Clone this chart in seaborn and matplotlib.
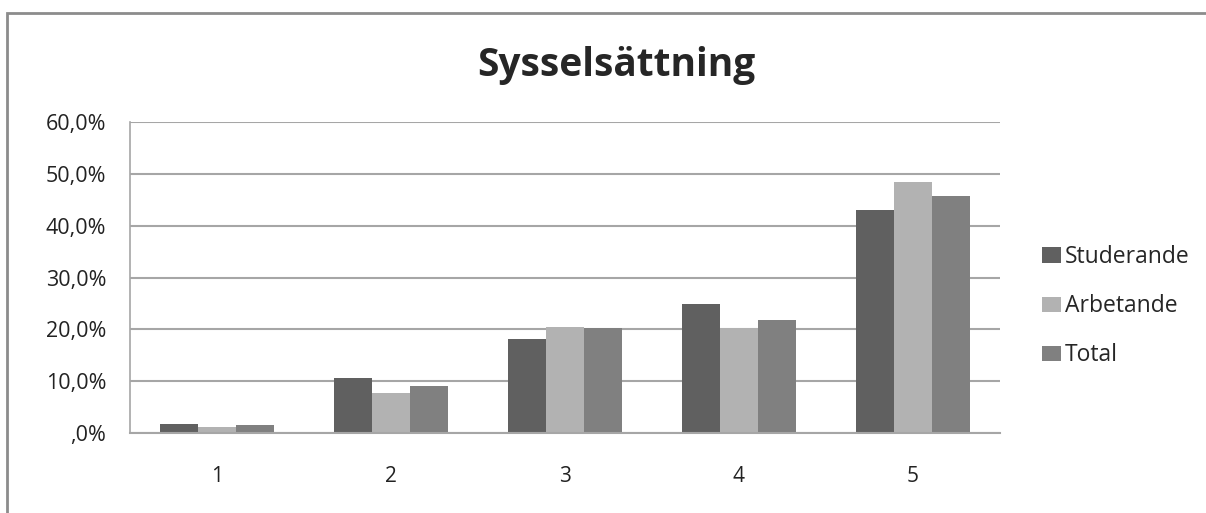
import matplotlib
matplotlib.use('Agg')
from matplotlib import pyplot as plt
from matplotlib.patches import Rectangle
from matplotlib.ticker import FuncFormatter
import pandas as pd
import seaborn as sns

categories = ['1', '2', '3', '4', '5']
studerande = [1.7, 10.7, 18.1, 24.8, 43.0]
arbetande = [1.1, 7.8, 20.4, 20.2, 48.5]
total = [1.5, 9.0, 20.2, 21.9, 45.7]
series = ['Studerande', 'Arbetande', 'Total']
colors = ['#606060', '#b2b2b2', '#808080']

df = pd.DataFrame({'kategori': categories * 3,
                   'andel': studerande + arbetande + total,
                   'grupp': [s for s in series for _ in categories]})

sns.set_style('white')
plt.rcParams['font.family'] = ['Open Sans', 'DejaVu Sans']

f = plt.figure(figsize=(12.06, 5.13), dpi=100)
ax = f.add_axes([0.1078, 0.156, 0.721, 0.606])
sns.barplot(data=df, x='kategori', y='andel', hue='grupp', palette=colors,
            width=0.655, saturation=1, ax=ax, edgecolor='none')

ax.set_ylim(0, 60)
ax.set_yticks(range(0, 61, 10))
ax.yaxis.set_major_formatter(FuncFormatter(lambda v, p: ',0%' if v == 0 else f'{v:.1f}%'.replace('.', ',')))
ax.yaxis.grid(True, color='#a6a6a6', linewidth=1.5)
ax.set_axisbelow(True)
for s in ['top', 'right']:
    ax.spines[s].set_visible(False)
ax.spines['left'].set_color('#a6a6a6')
ax.spines['bottom'].set_color('#a6a6a6')
ax.spines['left'].set_linewidth(1.2)
ax.spines['bottom'].set_linewidth(1.5)
ax.tick_params(axis='y', labelsize=15.5, colors='#222222', length=0, pad=17)
ax.tick_params(axis='x', labelsize=15, colors='#222222', length=0, pad=24)
ax.set_xlabel('')
ax.set_ylabel('')

ax.legend(loc='center left', bbox_to_anchor=(0.864, 0.403), bbox_transform=f.transFigure,
          frameon=False, fontsize=16.5, handlelength=0.85, handleheight=0.65,
          handletextpad=0.15, labelspacing=1.1, borderpad=0, borderaxespad=0)

f.text(0.511, 0.872, 'Sysselsättning', ha='center', va='center',
       fontsize=28, fontweight='bold')
f.patches.append(Rectangle((0.006, -0.01), 1.0, 0.985, transform=f.transFigure,
                           fill=False, edgecolor='#8c8c8c', linewidth=2))

plt.savefig('out.png', dpi=100)
